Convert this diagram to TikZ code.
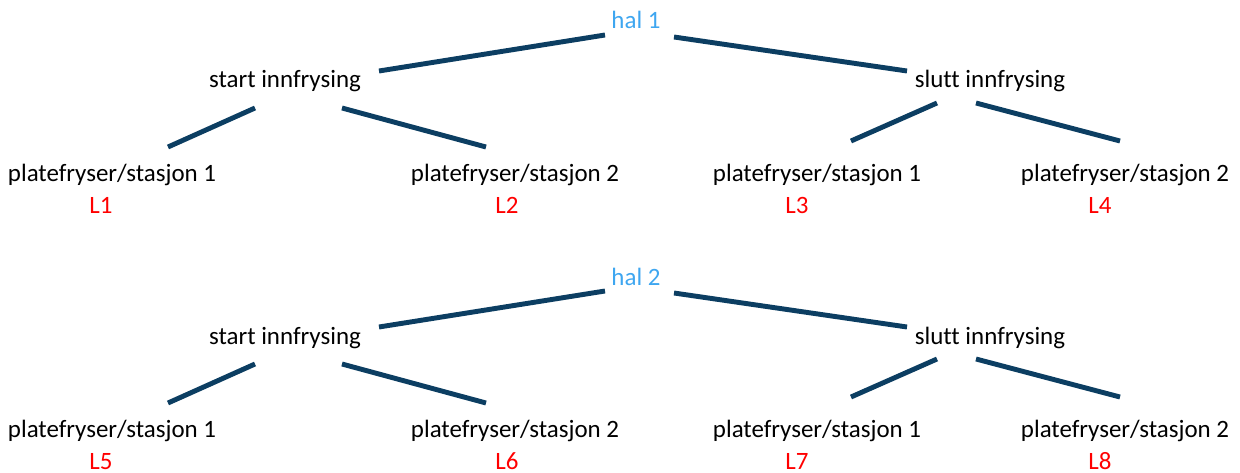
\documentclass[tikz,border=0pt]{standalone}
\usepackage{fontspec}
\setmainfont{Carlito}[Ligatures={NoCommon}]
\usetikzlibrary{calc}

\definecolor{treeblue}{RGB}{12,62,98}
\definecolor{halblue}{RGB}{62,166,240}
\definecolor{labred}{RGB}{255,0,0}

\tikzset{
  branch/.style={draw=treeblue, line width=2.8pt},
  txt/.style={anchor=base, inner sep=0pt, font=\fontsize{14.2}{17}\selectfont},
  hal/.style={txt, text=halblue},
  lab/.style={txt, text=labred},
}

\begin{document}
\begin{tikzpicture}[x=0.02cm, y=-0.02cm]
  % Frame (pixel units, y downwards)
  \useasboundingbox (0,0) rectangle (1240,473);

  % Two trees, the second one shifted down
  \foreach \k/\dy in {1/0, 2/256}{
    \pgfmathtruncatemacro{\na}{4*(\k-1)+1}
    \pgfmathtruncatemacro{\nb}{4*(\k-1)+2}
    \pgfmathtruncatemacro{\nc}{4*(\k-1)+3}
    \pgfmathtruncatemacro{\nd}{4*(\k-1)+4}

    % Nodes
    \node[hal] (hal\k)   at (636,29+\dy) {hal \k};
    \node[txt] (start\k) at (285,88+\dy) {start innfrysing};
    \node[txt] (slutt\k) at (990,88+\dy) {slutt innfrysing};
    \node[txt] (leafA\k) at (112,181+\dy) {platefryser/stasjon 1};
    \node[txt] (leafB\k) at (515,181+\dy) {platefryser/stasjon 2};
    \node[txt] (leafC\k) at (817,181+\dy) {platefryser/stasjon 1};
    \node[txt] (leafD\k) at (1125,181+\dy) {platefryser/stasjon 2};

    % Labels under the leaves
    \node[lab] (labA\k) at ($(leafA\k.base)+(-11,32)$) {L\na};
    \node[lab] (labB\k) at ($(leafB\k.base)+(-8,32)$) {L\nb};
    \node[lab] (labC\k) at ($(leafC\k.base)+(-20,32)$) {L\nc};
    \node[lab] (labD\k) at ($(leafD\k.base)+(-25,32)$) {L\nd};

    % Branches
    \draw[branch] ($(hal\k.base)+(-31,6)$) -- ($(start\k.base)+(94,-17)$);
    \draw[branch] ($(hal\k.base)+(38,8)$) -- ($(slutt\k.base)+(-83,-17)$);
    \draw[branch] ($(start\k.base)+(-30,20)$) -- ($(leafA\k.base)+(56,-34)$);
    \draw[branch] ($(start\k.base)+(57,20)$) -- ($(leafB\k.base)+(-29,-34)$);
    \draw[branch] ($(slutt\k.base)+(-53,15)$) -- ($(leafC\k.base)+(34,-40)$);
    \draw[branch] ($(slutt\k.base)+(-14,15)$) -- ($(leafD\k.base)+(-5,-40)$);
  }
\end{tikzpicture}
\end{document}
